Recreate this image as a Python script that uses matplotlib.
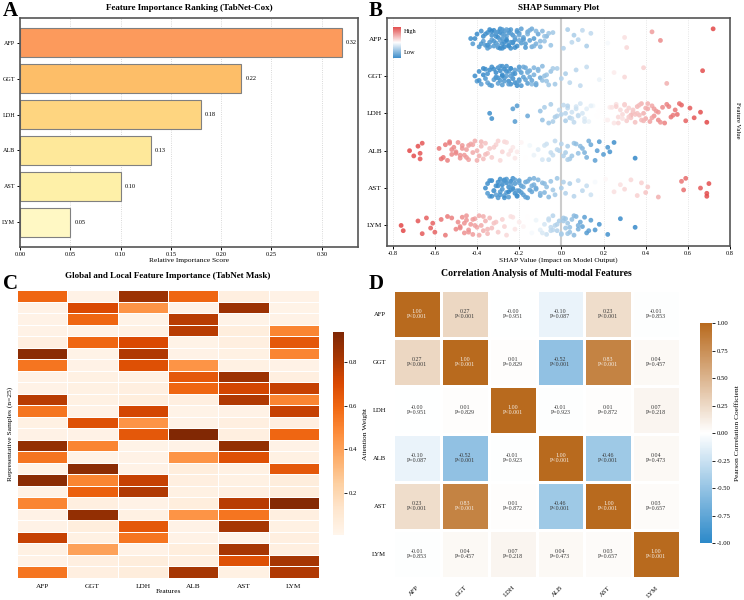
import numpy as np
import matplotlib
matplotlib.use("Agg")
import matplotlib.pyplot as plt
import seaborn as sns
from matplotlib.colors import LinearSegmentedColormap

plt.rcParams['font.family'] = ['Liberation Serif', 'DejaVu Serif']

features = ["AFP", "GGT", "LDH", "ALB", "AST", "LYM"]

# ---------------- Panel A data ----------------
importance = [0.32, 0.22, 0.18, 0.13, 0.10, 0.05]
bar_colors = ["#fc9a5c", "#fdbe68", "#fed580", "#fee89a", "#fef0a8", "#fff8c4"]

# ---------------- Panel B data (SHAP values and normalised feature values) ----------------
afp_shap = [-0.43, -0.42, -0.40, -0.39, -0.38, -0.37, -0.37, -0.36, -0.35, -0.35, -0.34, -0.34, -0.33, -0.33,
            -0.32, -0.32, -0.31, -0.31, -0.30, -0.30, -0.30, -0.29, -0.29, -0.28, -0.28, -0.28, -0.27, -0.27,
            -0.26, -0.26, -0.25, -0.25, -0.24, -0.24, -0.23, -0.23, -0.22, -0.21, -0.21, -0.20,
            -0.19, -0.18, -0.17, -0.16, -0.15, -0.14, -0.13, -0.12, -0.11, -0.10,
            -0.09, -0.08, -0.07, -0.05, -0.04,
            0.01, 0.03, 0.05, 0.06, 0.08, 0.10, 0.12, 0.14, 0.22, 0.30, 0.31, 0.43, 0.47, 0.72,
            -0.41, -0.38, -0.36, -0.34, -0.33, -0.32, -0.31, -0.30, -0.29, -0.29, -0.28, -0.27, -0.27, -0.26,
            -0.25, -0.25, -0.24, -0.23, -0.22, -0.22, -0.21, -0.20, -0.19, -0.18, -0.17, -0.16, -0.14, -0.12,
            -0.10, -0.08, -0.35, -0.31, -0.28, -0.26, -0.24, -0.20, -0.18, -0.15, -0.13, -0.06]
afp_val = [0.05, 0.10, 0.03, 0.08, 0.06, 0.12, 0.04, 0.09, 0.05, 0.10, 0.03, 0.08, 0.06, 0.12, 0.04, 0.09,
           0.05, 0.10, 0.03, 0.08, 0.06, 0.12, 0.04, 0.09, 0.05, 0.10, 0.03, 0.08, 0.06, 0.12, 0.04, 0.09,
           0.05, 0.10, 0.03, 0.08, 0.06, 0.12, 0.04, 0.09,
           0.10, 0.14, 0.08, 0.15, 0.12, 0.16, 0.10, 0.18, 0.14, 0.20,
           0.22, 0.25, 0.20, 0.26, 0.28,
           0.32, 0.30, 0.34, 0.30, 0.33, 0.35, 0.30, 0.35, 0.48, 0.58, 0.60, 0.75, 0.80, 0.97,
           0.04, 0.08, 0.06, 0.11, 0.03, 0.09, 0.05, 0.13, 0.07, 0.04, 0.10, 0.06, 0.12, 0.03,
           0.08, 0.05, 0.11, 0.07, 0.13, 0.04, 0.09, 0.15, 0.12, 0.17, 0.10, 0.19, 0.16, 0.21,
           0.22, 0.26, 0.07, 0.12, 0.05, 0.14, 0.08, 0.16, 0.11, 0.18, 0.20, 0.27]

ggt_shap = [-0.41, -0.40, -0.39, -0.38, -0.37, -0.36, -0.35, -0.35, -0.34, -0.33, -0.33, -0.32, -0.31, -0.31,
            -0.30, -0.30, -0.29, -0.29, -0.28, -0.28, -0.27, -0.27, -0.26, -0.26, -0.25, -0.25, -0.24, -0.24,
            -0.23, -0.23, -0.22, -0.22, -0.21, -0.20, -0.20, -0.19,
            -0.18, -0.17, -0.16, -0.15, -0.14, -0.13, -0.12, -0.11, -0.10, -0.09,
            -0.08, -0.07, -0.05, -0.03, -0.02,
            0.00, 0.02, 0.04, 0.07, 0.09, 0.12, 0.18, 0.25, 0.30, 0.39, 0.50, 0.67,
            -0.39, -0.37, -0.34, -0.32, -0.30, -0.29, -0.28, -0.27, -0.26, -0.25, -0.24, -0.23, -0.22, -0.21,
            -0.20, -0.19, -0.18, -0.17, -0.16, -0.15, -0.13, -0.12, -0.11, -0.09, -0.07, -0.06, -0.36, -0.31,
            -0.28, -0.24, -0.20, -0.16, -0.14, -0.04]
ggt_val = [0.04, 0.09, 0.05, 0.11, 0.03, 0.08, 0.06, 0.12, 0.04, 0.09, 0.05, 0.10, 0.03, 0.08, 0.06, 0.12,
           0.04, 0.09, 0.05, 0.10, 0.03, 0.08, 0.06, 0.12, 0.04, 0.09, 0.05, 0.10, 0.03, 0.08, 0.06, 0.12,
           0.04, 0.09, 0.05, 0.10,
           0.12, 0.15, 0.10, 0.16, 0.13, 0.18, 0.12, 0.20, 0.16, 0.22,
           0.24, 0.26, 0.25, 0.28, 0.30,
           0.32, 0.30, 0.34, 0.33, 0.35, 0.36, 0.45, 0.55, 0.60, 0.62, 0.70, 0.95,
           0.06, 0.03, 0.10, 0.05, 0.08, 0.12, 0.04, 0.09, 0.06, 0.11, 0.05, 0.13, 0.07, 0.10,
           0.14, 0.08, 0.16, 0.12, 0.18, 0.15, 0.20, 0.17, 0.22, 0.24, 0.26, 0.27, 0.05, 0.09,
           0.07, 0.11, 0.13, 0.19, 0.21, 0.29]

ldh_shap = [-0.34, -0.33, -0.23, -0.22, -0.21, -0.16, -0.10, -0.09, -0.08, -0.06, -0.05, -0.03, -0.01, 0.00,
            0.01, 0.02, 0.03, 0.04, 0.05, 0.06, 0.07, 0.08, 0.09, 0.10, 0.11, 0.12, 0.13, 0.15, 0.17, 0.19,
            0.21, 0.23, 0.25, 0.26, 0.27, 0.28, 0.29, 0.30, 0.31, 0.32, 0.33, 0.34, 0.35, 0.36, 0.37, 0.38,
            0.39, 0.40, 0.41, 0.42, 0.43, 0.44, 0.45, 0.46, 0.48, 0.49, 0.50, 0.52, 0.54, 0.55, 0.57, 0.59,
            0.61, 0.63, 0.66, 0.69, 0.26, 0.33, 0.41, 0.36, 0.29, 0.44, -0.04, 0.03, 0.08, 0.31, 0.38,
            0.24, 0.27, 0.30, 0.32, 0.34, 0.35, 0.37, 0.39, 0.40, 0.43, 0.46, 0.47, 0.51, 0.53, 0.56,
            0.02, 0.05, 0.07, 0.11, 0.14, -0.02, 0.18, 0.22]
ldh_val = [0.05, 0.05, 0.10, 0.10, 0.10, 0.15, 0.25, 0.25, 0.30, 0.28, 0.30, 0.30, 0.35, 0.33,
           0.35, 0.30, 0.35, 0.32, 0.38, 0.35, 0.40, 0.38, 0.40, 0.40, 0.42, 0.43, 0.45, 0.47, 0.50, 0.50,
           0.52, 0.55, 0.57, 0.58, 0.60, 0.60, 0.60, 0.62, 0.63, 0.62, 0.65, 0.66, 0.66, 0.68, 0.67, 0.70,
           0.70, 0.72, 0.72, 0.74, 0.73, 0.78, 0.76, 0.80, 0.80, 0.82, 0.82, 0.85, 0.85, 0.87, 0.90, 0.90,
           0.92, 0.93, 0.95, 0.97, 0.62, 0.68, 0.70, 0.65, 0.58, 0.75, 0.30, 0.33, 0.36, 0.62, 0.68,
           0.57, 0.60, 0.62, 0.63, 0.64, 0.66, 0.67, 0.69, 0.71, 0.74, 0.77, 0.78, 0.83, 0.84, 0.88,
           0.33, 0.36, 0.38, 0.41, 0.44, 0.31, 0.50, 0.54]

alb_shap = [-0.72, -0.70, -0.68, -0.67, -0.66, -0.67, -0.58, -0.56, -0.55, -0.54, -0.53, -0.52, -0.51, -0.50,
            -0.49, -0.48, -0.47, -0.46, -0.45, -0.44, -0.43, -0.42, -0.41, -0.40, -0.39, -0.38, -0.37, -0.36,
            -0.35, -0.34, -0.33, -0.31, -0.29, -0.27, -0.25, -0.23, -0.21, -0.19, -0.17, -0.15, -0.13, -0.11,
            -0.09, -0.07, -0.05, -0.03, -0.01, 0.01, 0.03, 0.04, 0.06, 0.08, 0.10, 0.12, 0.14, 0.16, 0.18,
            0.20, 0.22, 0.23, 0.25, 0.35, -0.44, -0.48, -0.52, -0.06, 0.00, 0.02, -0.30, -0.24, 0.05, 0.09,
            -0.57, -0.53, -0.50, -0.47, -0.45, -0.42, -0.40, -0.38, -0.36, -0.32, -0.28, -0.26, -0.22,
            -0.08, -0.04, -0.02, 0.03, 0.07, 0.11, 0.13, 0.17]
alb_val = [0.97, 0.95, 0.95, 0.93, 0.93, 0.94, 0.85, 0.85, 0.84, 0.83, 0.82, 0.80, 0.80, 0.80,
           0.78, 0.78, 0.77, 0.76, 0.75, 0.74, 0.73, 0.72, 0.72, 0.70, 0.70, 0.68, 0.67, 0.66,
           0.65, 0.64, 0.63, 0.62, 0.60, 0.60, 0.58, 0.56, 0.55, 0.53, 0.50, 0.47, 0.45, 0.42,
           0.40, 0.38, 0.36, 0.35, 0.33, 0.32, 0.30, 0.28, 0.26, 0.25, 0.20, 0.18, 0.15, 0.12, 0.10,
           0.10, 0.08, 0.07, 0.05, 0.02, 0.75, 0.78, 0.80, 0.37, 0.33, 0.30, 0.62, 0.58, 0.27, 0.22,
           0.86, 0.82, 0.80, 0.77, 0.76, 0.73, 0.71, 0.69, 0.67, 0.63, 0.61, 0.59, 0.56,
           0.39, 0.36, 0.34, 0.31, 0.24, 0.19, 0.17, 0.11]

ast_shap = [-0.36, -0.35, -0.35, -0.34, -0.33, -0.32, -0.31, -0.31, -0.30, -0.30, -0.29, -0.29, -0.28, -0.28,
            -0.27, -0.27, -0.26, -0.26, -0.25, -0.25, -0.24, -0.24, -0.23, -0.23, -0.22, -0.22, -0.21, -0.20,
            -0.20, -0.19,
            -0.18, -0.17, -0.16, -0.15, -0.14, -0.13, -0.12, -0.11, -0.10, -0.09, -0.08, -0.07, -0.06,
            -0.05, -0.04, -0.02, 0.00, 0.02, 0.04, 0.06, 0.08, 0.10, 0.12, 0.14,
            0.16, 0.19, 0.21, 0.25, 0.28, 0.30, 0.33, 0.36, 0.38, 0.40, 0.41, 0.46, 0.57, 0.58, 0.59,
            0.66, 0.69, 0.70, 0.69,
            -0.34, -0.32, -0.30, -0.29, -0.28, -0.27, -0.26, -0.25, -0.24, -0.23, -0.22, -0.21, -0.20, -0.19,
            -0.18, -0.17, -0.16, -0.15, -0.13, -0.12, -0.10, -0.08, -0.33, -0.27, -0.21, -0.14, -0.03, 0.01]
ast_val = [0.04, 0.09, 0.05, 0.11, 0.03, 0.08, 0.06, 0.12, 0.04, 0.09, 0.05, 0.10, 0.03, 0.08,
           0.06, 0.12, 0.04, 0.09, 0.05, 0.10, 0.03, 0.08, 0.06, 0.12, 0.04, 0.09, 0.05, 0.10,
           0.08, 0.12,
           0.12, 0.15, 0.10, 0.16, 0.13, 0.18, 0.14, 0.20, 0.16, 0.22, 0.20, 0.24, 0.22,
           0.26, 0.28, 0.27, 0.30, 0.32, 0.30, 0.33, 0.35, 0.34, 0.36, 0.38,
           0.48, 0.50, 0.52, 0.58, 0.58, 0.60, 0.60, 0.62, 0.62, 0.65, 0.64, 0.70, 0.85, 0.87, 0.88,
           0.92, 0.95, 0.95, 0.96,
           0.06, 0.10, 0.04, 0.08, 0.12, 0.05, 0.09, 0.03, 0.11, 0.07, 0.13, 0.06, 0.14, 0.10,
           0.15, 0.12, 0.17, 0.14, 0.19, 0.16, 0.21, 0.23, 0.05, 0.08, 0.11, 0.18, 0.28, 0.31]

lym_shap = [-0.76, -0.75, -0.68, -0.66, -0.64, -0.62, -0.61, -0.60, -0.57, -0.55, -0.54, -0.50, -0.49, -0.48,
            -0.47, -0.46, -0.45, -0.44, -0.43, -0.42, -0.41, -0.40, -0.39, -0.38, -0.37, -0.36, -0.35, -0.34,
            -0.33, -0.32, -0.30, -0.28, -0.26, -0.24, -0.22, -0.20, -0.18, -0.16, -0.14, -0.12, -0.10, -0.08,
            -0.07, -0.06, -0.05, -0.04, -0.03, -0.02, -0.01, 0.00, 0.01, 0.02, 0.03, 0.04, 0.05, 0.06, 0.07,
            0.08, 0.09, 0.10, 0.11, 0.12, 0.14, 0.16, 0.18, 0.22, 0.28, 0.35, -0.45, -0.41, -0.05, 0.01, 0.03,
            -0.52, -0.48, -0.46, -0.44, -0.42, -0.39, -0.37, -0.35, -0.31, -0.27, -0.23,
            -0.09, -0.06, -0.04, -0.02, 0.00, 0.02, 0.04, 0.06, 0.08, 0.13]
lym_val = [0.97, 0.97, 0.93, 0.92, 0.91, 0.90, 0.90, 0.90, 0.86, 0.85, 0.84, 0.82, 0.80, 0.80,
           0.79, 0.78, 0.77, 0.77, 0.76, 0.75, 0.74, 0.73, 0.72, 0.72, 0.70, 0.70, 0.68, 0.68,
           0.67, 0.66, 0.64, 0.62, 0.60, 0.58, 0.57, 0.55, 0.53, 0.50, 0.48, 0.46, 0.43, 0.40,
           0.38, 0.36, 0.35, 0.33, 0.33, 0.32, 0.30, 0.30, 0.28, 0.27, 0.27, 0.25, 0.24, 0.22, 0.20,
           0.18, 0.15, 0.13, 0.12, 0.10, 0.10, 0.08, 0.07, 0.06, 0.04, 0.03, 0.77, 0.74, 0.35, 0.28, 0.27,
           0.83, 0.80, 0.78, 0.77, 0.75, 0.72, 0.71, 0.69, 0.65, 0.61, 0.58,
           0.41, 0.37, 0.34, 0.32, 0.30, 0.27, 0.25, 0.22, 0.18, 0.11]

shap_values = [afp_shap, ggt_shap, ldh_shap, alb_shap, ast_shap, lym_shap]
feature_values = [afp_val, ggt_val, ldh_val, alb_val, ast_val, lym_val]

# ---------------- Panel C data (TabNet attention mask, 25 samples) ----------------
attention = [
    [0.60, 0.03, 0.85, 0.60, 0.05, 0.03],
    [0.03, 0.70, 0.45, 0.03, 0.85, 0.02],
    [0.03, 0.60, 0.02, 0.78, 0.02, 0.03],
    [0.03, 0.03, 0.04, 0.78, 0.06, 0.50],
    [0.05, 0.60, 0.70, 0.02, 0.05, 0.65],
    [0.90, 0.02, 0.80, 0.03, 0.04, 0.50],
    [0.55, 0.03, 0.68, 0.45, 0.04, 0.03],
    [0.03, 0.04, 0.04, 0.65, 0.85, 0.05],
    [0.03, 0.04, 0.05, 0.60, 0.72, 0.75],
    [0.78, 0.04, 0.06, 0.05, 0.80, 0.50],
    [0.55, 0.03, 0.72, 0.02, 0.03, 0.75],
    [0.04, 0.68, 0.45, 0.03, 0.05, 0.05],
    [0.03, 0.03, 0.65, 0.93, 0.05, 0.60],
    [0.88, 0.50, 0.02, 0.03, 0.88, 0.03],
    [0.55, 0.02, 0.03, 0.45, 0.68, 0.04],
    [0.02, 0.90, 0.03, 0.06, 0.04, 0.65],
    [0.90, 0.50, 0.75, 0.05, 0.04, 0.07],
    [0.03, 0.62, 0.80, 0.04, 0.05, 0.06],
    [0.50, 0.05, 0.03, 0.06, 0.78, 0.92],
    [0.03, 0.88, 0.04, 0.45, 0.55, 0.05],
    [0.03, 0.06, 0.65, 0.03, 0.82, 0.04],
    [0.75, 0.04, 0.55, 0.03, 0.02, 0.05],
    [0.04, 0.40, 0.03, 0.06, 0.82, 0.05],
    [0.03, 0.05, 0.07, 0.05, 0.68, 0.82],
    [0.55, 0.05, 0.07, 0.82, 0.04, 0.80],
]

# ---------------- Panel D data ----------------
corr = [
    [1.00, 0.27, -0.004, -0.10, 0.23, -0.01],
    [0.27, 1.00, 0.01, -0.52, 0.83, 0.04],
    [-0.004, 0.01, 1.00, -0.01, 0.01, 0.07],
    [-0.10, -0.52, -0.01, 1.00, -0.46, 0.04],
    [0.23, 0.83, 0.01, -0.46, 1.00, 0.03],
    [-0.01, 0.04, 0.07, 0.04, 0.03, 1.00],
]
pvals = [
    ["<0.001", "<0.001", "=0.951", "=0.087", "<0.001", "=0.853"],
    ["<0.001", "<0.001", "=0.829", "<0.001", "<0.001", "=0.457"],
    ["=0.951", "=0.829", "<0.001", "=0.923", "=0.872", "=0.218"],
    ["=0.087", "<0.001", "=0.923", "<0.001", "<0.001", "=0.473"],
    ["<0.001", "<0.001", "=0.872", "<0.001", "<0.001", "=0.657"],
    ["=0.853", "=0.457", "=0.218", "=0.473", "=0.657", "<0.001"],
]

# jitter pattern for the summary plot (layout only)
jitter = [0.00, 0.14, -0.12, 0.22, -0.20, 0.07, -0.06, 0.18, -0.16, 0.26, -0.24, 0.10,
          -0.09, 0.03, -0.22, 0.20, -0.14, 0.12, -0.03, 0.24, -0.18, 0.05, -0.26]

W, H = 744, 600
fig = plt.figure(figsize=(7.44, 6.0), dpi=100)


def ax_px(l, t, r, b):
    return fig.add_axes([l / W, 1 - b / H, (r - l) / W, (b - t) / H])


spine_col = "#555555"
title_fs = 6.5
xtick_fs = 4.6
ytick_fs = 4.4
label_fs = 5.4

# ======== A ========
axA = ax_px(20, 18, 358, 247)
ypos = np.arange(len(features))
axA.barh(ypos, importance, height=0.8, color=bar_colors, edgecolor="#808080", linewidth=0.8)
axA.invert_yaxis()
axA.set_yticks(ypos)
axA.set_yticklabels(features, fontsize=ytick_fs)
axA.set_xlim(0, 0.336)
axA.set_xticks(np.arange(0, 0.31, 0.05))
axA.set_xticklabels([f"{v:.2f}" for v in np.arange(0, 0.31, 0.05)], fontsize=xtick_fs)
for i, v in enumerate(importance):
    axA.text(v + 0.004, i, f"{v:.2f}", va="center", ha="left", fontsize=4.6)
axA.set_xlabel("Relative Importance Score", fontsize=label_fs, labelpad=1)
axA.set_title("Feature Importance Ranking (TabNet-Cox)", fontsize=title_fs, fontweight="bold", pad=6)
axA.grid(axis="x", linestyle=":", color="#cccccc", linewidth=0.6)
axA.set_axisbelow(True)
for s in axA.spines.values():
    s.set_color(spine_col)
    s.set_linewidth(1.2)
axA.tick_params(length=2.0, width=0.7, pad=1.5)

# ======== B ========
axB = ax_px(387, 18, 730, 246)
shap_cmap = LinearSegmentedColormap.from_list("shap", ["#2a82c6", "#ffffff", "#e03c3c"])
axB.axvline(0, color="#cccccc", linewidth=1.5, zorder=1)
for i in range(len(features)):
    xs = np.array(shap_values[i])
    cs = np.array(feature_values[i])
    ys = np.array([i + jitter[k % len(jitter)] for k in range(len(xs))])
    axB.scatter(xs, ys, c=cs, cmap=shap_cmap, vmin=0, vmax=1, s=12, alpha=0.85,
                linewidths=0, zorder=2)
axB.set_ylim(5.55, -0.55)
axB.set_xlim(-0.827, 0.8)
axB.set_yticks(range(len(features)))
axB.set_yticklabels(features, fontsize=5.2)
xt = np.arange(-0.8, 0.81, 0.2)
axB.set_xticks(xt)
axB.set_xticklabels([f"{v:.1f}" if abs(v) > 1e-9 else "0.0" for v in xt], fontsize=xtick_fs)
axB.set_xlabel("SHAP Value (Impact on Model Output)", fontsize=label_fs, labelpad=1)
axB.set_title("SHAP Summary Plot", fontsize=title_fs, fontweight="bold", pad=6)
axB.grid(axis="x", linestyle=":", color="#dddddd", linewidth=0.6)
axB.set_axisbelow(True)
for s in axB.spines.values():
    s.set_color(spine_col)
    s.set_linewidth(1.2)
axB.tick_params(length=2.0, width=0.7, pad=1.5)

# legend gradient
axL = ax_px(393, 27, 401, 58)
grad = np.linspace(1, 0, 100).reshape(-1, 1)
axL.imshow(grad, aspect="auto", cmap=shap_cmap, vmin=0, vmax=1, alpha=0.9)
axL.set_axis_off()
fig.text(404 / W, 1 - 32 / H, "High", fontsize=4.6, va="center", ha="left")
fig.text(404 / W, 1 - 53 / H, "Low", fontsize=4.6, va="center", ha="left")
fig.text(737 / W, 1 - 120 / H, "Feature Value", fontsize=4.8, rotation=270, va="center", ha="center")

# ======== C ========
axC = ax_px(17, 290, 319, 578)
caxC = ax_px(333, 332, 344, 535)
sns.heatmap(np.array(attention), ax=axC, cbar_ax=caxC, cmap="Oranges", vmin=0.005, vmax=0.94,
            linewidths=0.6, linecolor="white", xticklabels=features, yticklabels=False,
            cbar_kws={"ticks": [0.2, 0.4, 0.6, 0.8]})
axC.set_xticklabels(features, fontsize=5.2, rotation=0)
axC.tick_params(length=0, pad=4)
axC.set_xlabel("Features", fontsize=label_fs, labelpad=0)
axC.set_ylabel("Representative Samples (n=25)", fontsize=label_fs, labelpad=3)
axC.set_title("Global and Local Feature Importance (TabNet Mask)", fontsize=title_fs, fontweight="bold", pad=9)
caxC.tick_params(labelsize=4.8, length=2.0, width=0.6, pad=1.5)
caxC.set_ylabel("Attention Weight", fontsize=label_fs, labelpad=4)
for s in caxC.spines.values():
    s.set_visible(False)

# ======== D ========
axD = ax_px(393, 290, 680, 578)
caxD = ax_px(700, 323, 712, 543)
corr_cmap = LinearSegmentedColormap.from_list("corr", ["#2c89c9", "#ffffff", "#b86a1e"])
corr_arr = np.array(corr)
annot = np.array([[f"{corr[i][j]:.2f}\nP{pvals[i][j]}" for j in range(6)] for i in range(6)])
sns.heatmap(corr_arr, ax=axD, cbar_ax=caxD, cmap=corr_cmap, vmin=-1, vmax=1,
            linewidths=0.8, linecolor="white", xticklabels=features, yticklabels=features,
            annot=annot, fmt="", annot_kws={"fontsize": 4.3},
            cbar_kws={"ticks": np.arange(-1, 1.01, 0.25)})
for k, t in enumerate(axD.texts):
    i, j = divmod(k, 6)
    t.set_linespacing(1.15)
    t.set_color("#f4eee6" if abs(corr[i][j]) > 0.6 else "#3a3a3a")
axD.set_xticklabels(features, fontsize=4.8, rotation=45, ha="right", rotation_mode="anchor")
axD.set_yticklabels(features, fontsize=4.8, rotation=0)
axD.tick_params(length=0, pad=5)
axD.set_title("Correlation Analysis of Multi-modal Features", fontsize=7.0, fontweight="bold", pad=10)
caxD.tick_params(labelsize=4.8, length=2.0, width=0.6, pad=1.5)
caxD.set_yticklabels([f"{v:.2f}" for v in np.arange(-1, 1.01, 0.25)])
caxD.set_ylabel("Pearson Correlation Coefficient", fontsize=label_fs, labelpad=3)
for s in caxD.spines.values():
    s.set_visible(False)

# panel labels
for lab, x, y in [("A", 3, 11), ("B", 369, 11), ("C", 3, 284), ("D", 369, 284)]:
    fig.text(x / W, 1 - y / H, lab, fontsize=15, fontweight="bold", va="center", ha="left")

fig.savefig("out.png", dpi=100)
